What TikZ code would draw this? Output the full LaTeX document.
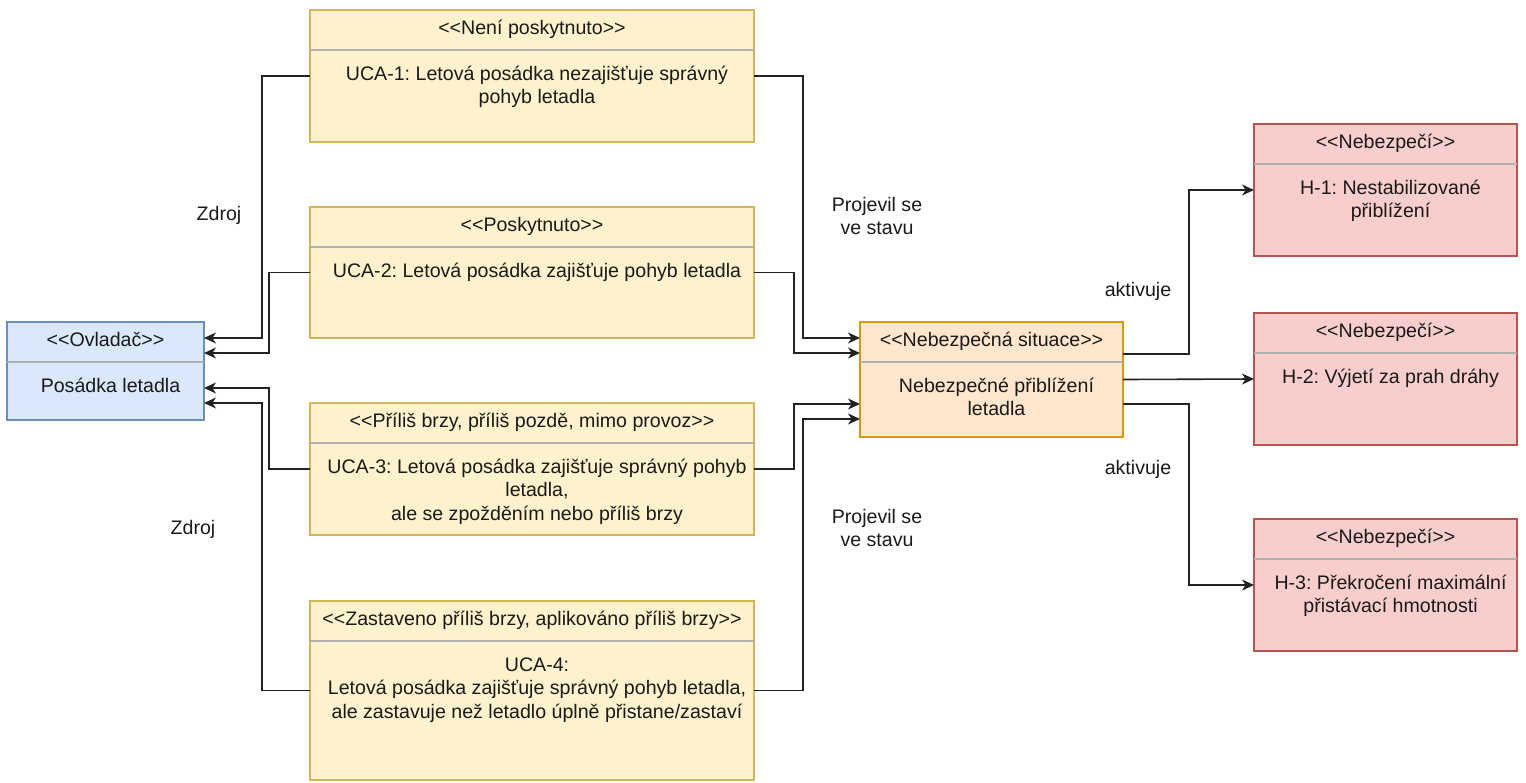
\documentclass[tikz,border=0pt]{standalone}
\usepackage{fontspec}
\newfontfamily\uifont{Liberation Sans}
\usetikzlibrary{arrows.meta,calc}

\definecolor{ylwFill}{HTML}{FFF2CC}\definecolor{ylwLine}{HTML}{D6B656}
\definecolor{bluFill}{HTML}{DAE8FC}\definecolor{bluLine}{HTML}{6C8EBF}
\definecolor{orgFill}{HTML}{FFE6CC}\definecolor{orgLine}{HTML}{D79B00}
\definecolor{redFill}{HTML}{F8CECC}\definecolor{redLine}{HTML}{B85450}
\definecolor{sepLine}{HTML}{B0B0B0}
\definecolor{wire}{HTML}{222222}
\definecolor{ink}{HTML}{1A1A1A}

\begin{document}
\frenchspacing
\begin{tikzpicture}[x=0.5pt,y=-0.5pt,
  umlbox/.style={draw, line width=0.65pt, inner sep=0pt, outer sep=0pt, anchor=north west},
  uca/.style={umlbox, fill=ylwFill, draw=ylwLine, minimum width=222pt},
  ctrl/.style={umlbox, fill=bluFill, draw=bluLine},
  situ/.style={umlbox, fill=orgFill, draw=orgLine},
  hzd/.style={umlbox, fill=redFill, draw=redLine, minimum width=131.5pt, minimum height=66pt},
  sep/.style={draw=sepLine, line width=0.75pt},
  txt/.style={inner sep=0pt, text=ink, font=\uifont\fontsize{9.8pt}{11.75pt}\selectfont\frenchspacing},
  head/.style={txt, anchor=base},
  body/.style={txt, anchor=north, align=center},
  lbl/.style={txt, anchor=north, align=center, font=\uifont\fontsize{9.8pt}{11.5pt}\selectfont},
  conn/.style={draw=wire, line width=0.8pt, -{Stealth[length=6pt,width=5.5pt,inset=1.8pt]}}
]
\useasboundingbox (0,0) rectangle (1526,782);

% ---- boxes ----
\node[ctrl, minimum width=98.5pt, minimum height=49pt] (ov) at (7,322) {};
\node[uca, minimum height=66pt]   (u1) at (310,10)  {};
\node[uca, minimum height=65.5pt] (u2) at (310,207) {};
\node[uca, minimum height=66pt]   (u3) at (310,403) {};
\node[uca, minimum height=89.5pt] (u4) at (310,601) {};
\node[situ, minimum width=131.5pt, minimum height=57.5pt] (sit) at (860,322) {};
\node[hzd] (h1) at (1254,124) {};
\node[hzd] (h2) at (1254,313) {};
\node[hzd] (h3) at (1254,519) {};

% ---- compartment separators ----
\foreach \b in {ov,u1,u2,u3,u4,sit,h1,h2,h3}
  \draw[sep] ([yshift=-20pt]\b.north west) -- ([yshift=-20pt]\b.north east);

% ---- stereotype headers ----
\node[head] (ovH)  at ([yshift=-12pt]ov.north)  {<<Ovladač>>};
\node[head] (u1H)  at ([yshift=-12pt]u1.north)  {<<Není poskytnuto>>};
\node[head] (u2H)  at ([yshift=-12pt]u2.north)  {<<Poskytnuto>>};
\node[head] (u3H)  at ([yshift=-12pt]u3.north)  {<<Příliš brzy, příliš pozdě, mimo provoz>>};
\node[head] (u4H)  at ([yshift=-12pt]u4.north)  {<<Zastaveno příliš brzy, aplikováno příliš brzy>>};
\node[head] (sitH) at ([yshift=-12pt]sit.north) {<<Nebezpečná situace>>};
\node[head] (h1H)  at ([yshift=-12pt]h1.north)  {<<Nebezpečí>>};
\node[head] (h2H)  at ([yshift=-12pt]h2.north)  {<<Nebezpečí>>};
\node[head] (h3H)  at ([yshift=-12pt]h3.north)  {<<Nebezpečí>>};

% ---- compartment bodies ----
\node[body] (ovB)  at ([xshift=2.5pt,yshift=-26.8pt]ov.north)  {\strut Posádka letadla};
\node[body] (u1B)  at ([xshift=2.5pt,yshift=-26.8pt]u1.north)  {\strut UCA-1: Letová posádka nezajišťuje správný\\pohyb letadla};
\node[body] (u2B)  at ([xshift=2.5pt,yshift=-26.8pt]u2.north)  {\strut UCA-2: Letová posádka zajišťuje pohyb letadla};
\node[body] (u3B)  at ([xshift=2.5pt,yshift=-26.8pt]u3.north)  {\strut UCA-3: Letová posádka zajišťuje správný pohyb\\letadla,\\ale se zpožděním nebo příliš brzy};
\node[body] (u4B)  at ([xshift=2.5pt,yshift=-26.8pt]u4.north)  {\strut UCA-4:\\Letová posádka zajišťuje správný pohyb letadla,\\ale zastavuje než letadlo úplně přistane/zastaví};
\node[body] (sitB) at ([xshift=2.5pt,yshift=-26.8pt]sit.north) {\strut Nebezpečné přiblížení\\letadla};
\node[body] (h1B)  at ([xshift=2.5pt,yshift=-26.8pt]h1.north)  {\strut H-1: Nestabilizované\\přiblížení};
\node[body] (h2B)  at ([xshift=2.5pt,yshift=-26.8pt]h2.north)  {\strut H-2: Výjetí za prah dráhy};
\node[body] (h3B)  at ([xshift=2.5pt,yshift=-26.8pt]h3.north)  {\strut H-3: Překročení maximální\\přistávací hmotnosti};

% ---- UCA -> controller ----
\draw[conn] (u1.west) -- ++(-48,0) |- ([yshift=-8pt]ov.north east);
\draw[conn] (u2.west) -- ++(-41,0) |- ([yshift=-15.5pt]ov.north east);
\draw[conn] (u3.west) -- ++(-41,0) |- ([yshift=-33pt]ov.north east);
\draw[conn] (u4.west) -- ++(-48,0) |- ([yshift=-40.5pt]ov.north east);

% ---- UCA -> hazardous situation ----
\draw[conn] (u1.east) -- ++(49,0) |- ([yshift=-8pt]sit.north west);
\draw[conn] (u2.east) -- ++(40,0) |- ([yshift=-15.5pt]sit.north west);
\draw[conn] (u3.east) -- ++(40,0) |- ([yshift=-41pt]sit.north west);
\draw[conn] (u4.east) -- ++(49,0) |- ([yshift=-48.5pt]sit.north west);

% ---- hazardous situation -> hazards ----
\draw[conn] ([yshift=-16pt]sit.north east) -- ++(66,0) |- (h1.west);
\draw[conn] (sit.east) -- (h2.west);
\draw[conn] ([yshift=-41pt]sit.north east) -- ++(66,0) |- (h3.west);

% ---- relation labels ----
\node[lbl] (z1) at (219,204) {\strut Zdroj};
\node[lbl] (z2) at (193,518) {\strut Zdroj};
\node[lbl] (p1) at (877,195) {\strut Projevil se\\ve stavu};
\node[lbl] (p2) at (877,507) {\strut Projevil se\\ve stavu};
\node[lbl] (a1) at (1138,280) {\strut aktivuje};
\node[lbl] (a2) at (1138,458) {\strut aktivuje};
\end{tikzpicture}
\end{document}
